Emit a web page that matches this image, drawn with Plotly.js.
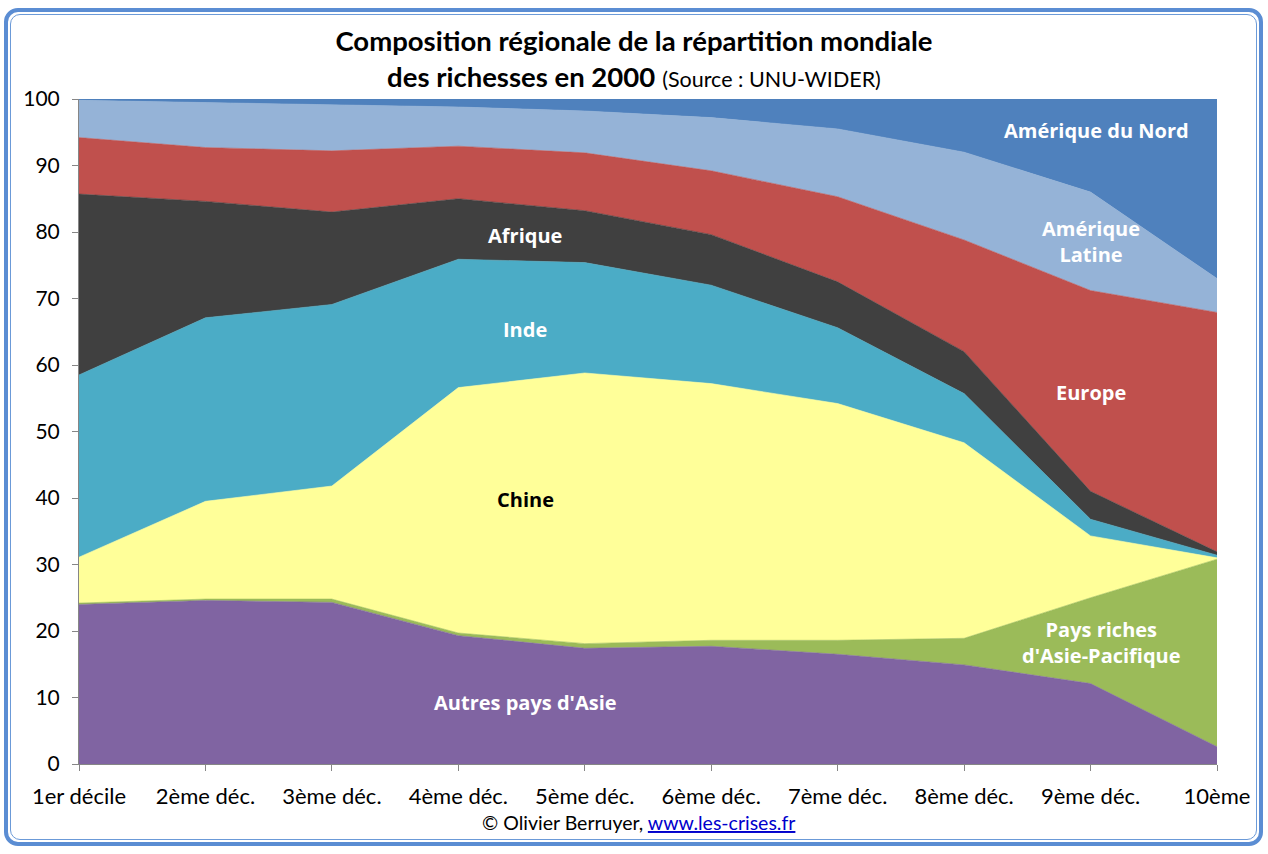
<!DOCTYPE html>
<html>
<head>
<meta charset="utf-8">
<script src="https://cdn.plot.ly/plotly-3.0.1.min.js"></script>
<style>
html,body{margin:0;padding:0;background:#fff;}
#wrap{position:relative;width:1268px;height:854px;overflow:hidden;}
#chart{position:absolute;left:0;top:0;width:1268px;height:854px;}
#b1{position:absolute;left:4px;top:8px;width:1251px;height:830px;border:4px solid #5B8DD3;border-radius:14px;pointer-events:none;}
#b2{position:absolute;left:10px;top:14px;width:1245px;height:824px;border:1px solid #6B9AD8;border-radius:10px;pointer-events:none;}
</style>
</head>
<body>
<div id="wrap">
<div id="chart"></div>
<div id="b1"></div>
<div id="b2"></div>
</div>
<script>
// Categories (income deciles)
const categories = ['1er décile','2ème déc.','3ème déc.','4ème déc.','5ème déc.','6ème déc.','7ème déc.','8ème déc.','9ème déc.','10ème'];

// Share (%) of each region in each decile
const autresAsie     = [24.0, 24.6, 24.3, 19.3, 17.4, 17.7, 16.5, 14.9, 12.1,  2.6];
const richesAsiePac  = [ 0.2,  0.2,  0.5,  0.4,  0.7,  0.9,  2.1,  4.0, 12.9, 28.2];
const chine          = [ 6.9, 14.7, 17.0, 36.9, 40.7, 38.6, 35.6, 29.4,  9.3,  0.2];
const inde           = [27.4, 27.6, 27.3, 19.3, 16.6, 14.8, 11.4,  7.4,  2.5,  0.4];
const afrique        = [27.2, 17.5, 13.9,  9.1,  7.8,  7.6,  6.9,  6.3,  4.2,  0.5];
const europe         = [ 8.5,  8.1,  9.2,  7.9,  8.7,  9.6, 12.8, 16.8, 30.2, 36.0];
const ameriqueLatine = [ 5.6,  6.8,  7.0,  5.9,  6.3,  8.0, 10.2, 13.2, 14.8,  5.1];
const ameriqueNord   = [ 0.2,  0.5,  0.8,  1.2,  1.8,  2.8,  4.5,  8.0, 14.0, 27.0];

const seriesNames  = ["Autres pays d'Asie", "Pays riches d'Asie-Pacifique", 'Chine', 'Inde', 'Afrique', 'Europe', 'Amérique Latine', 'Amérique du Nord'];
const seriesValues = [autresAsie, richesAsiePac, chine, inde, afrique, europe, ameriqueLatine, ameriqueNord];
const seriesColors = ['#8064A2', '#9BBB59', '#FFFF99', '#4BACC6', '#404040', '#C0504D', '#95B3D7', '#4F81BD'];

const traces = seriesNames.map((name, i) => ({
  type: 'scatter',
  mode: 'lines',
  name: name,
  x: categories,
  y: seriesValues[i],
  stackgroup: 'one',
  fillcolor: seriesColors[i],
  line: {width: 0.6, color: seriesColors[i]},
  hoverinfo: 'skip'
}));

const labelFont = {family: 'Open Sans, DejaVu Sans, sans-serif', size: 20, color: '#FFFFFF'};
function lab(text, x, y, color) {
  return {text: '<b>' + text + '</b>', x: x, y: y, xref: 'x', yref: 'y', showarrow: false,
          font: Object.assign({}, labelFont, color ? {color: color} : {}), align: 'center'};
}

const layout = {
  width: 1268,
  height: 854,
  margin: {l: 79, r: 51, t: 99, b: 90, pad: 0},
  paper_bgcolor: '#FFFFFF',
  plot_bgcolor: '#FFFFFF',
  showlegend: false,
  title: {
    text: '<b>Composition régionale de la répartition mondiale</b><br><b>des richesses en 2000</b> <span style="font-size:21.5px">(Source : UNU-WIDER)</span>',
    font: {family: 'Lato, sans-serif', size: 27.5, color: '#000000'},
    x: 0.5, xref: 'container', xanchor: 'center',
    y: 0.940, yref: 'container', yanchor: 'middle'
  },
  xaxis: {
    type: 'category',
    range: [0, 9],
    showgrid: false,
    zeroline: false,
    showline: true,
    linecolor: '#868686',
    linewidth: 1,
    ticks: 'outside',
    ticklen: 6,
    tickcolor: '#868686',
    ticklabelstandoff: 7,
    tickfont: {family: 'Lato, sans-serif', size: 22, color: '#000000'},
    fixedrange: true
  },
  yaxis: {
    range: [0, 100],
    dtick: 10,
    tick0: 0,
    showgrid: false,
    zeroline: false,
    showline: true,
    linecolor: '#868686',
    linewidth: 1,
    ticks: 'outside',
    ticklen: 6,
    tickcolor: '#868686',
    ticklabelstandoff: 8,
    tickfont: {family: 'Lato, sans-serif', size: 21, color: '#000000'},
    fixedrange: true
  },
  annotations: [
    lab('Amérique du Nord', 8.05, 95.3),
    lab('Amérique<br>Latine', 8.0, 78.6),
    lab('Europe', 8.0, 55.9),
    lab('Afrique', 3.53, 79.5),
    lab('Inde', 3.53, 65.3),
    lab('Chine', 3.53, 39.7, '#000000'),
    lab('Pays riches<br>d\'Asie-Pacifique', 8.09, 18.3),
    lab('Autres pays d\'Asie', 3.53, 9.2),
    {
      text: '© Olivier Berruyer, <span style="color:#0000CC"><u>www.les-crises.fr</u></span>',
      xref: 'paper', yref: 'paper', x: 0.492, y: -0.0887, xanchor: 'center', yanchor: 'middle',
      showarrow: false, font: {family: 'Lato, sans-serif', size: 19.5, color: '#000000'}
    }
  ]
};

Plotly.newPlot('chart', traces, layout, {displayModeBar: false, staticPlot: true});
</script>
</body>
</html>
